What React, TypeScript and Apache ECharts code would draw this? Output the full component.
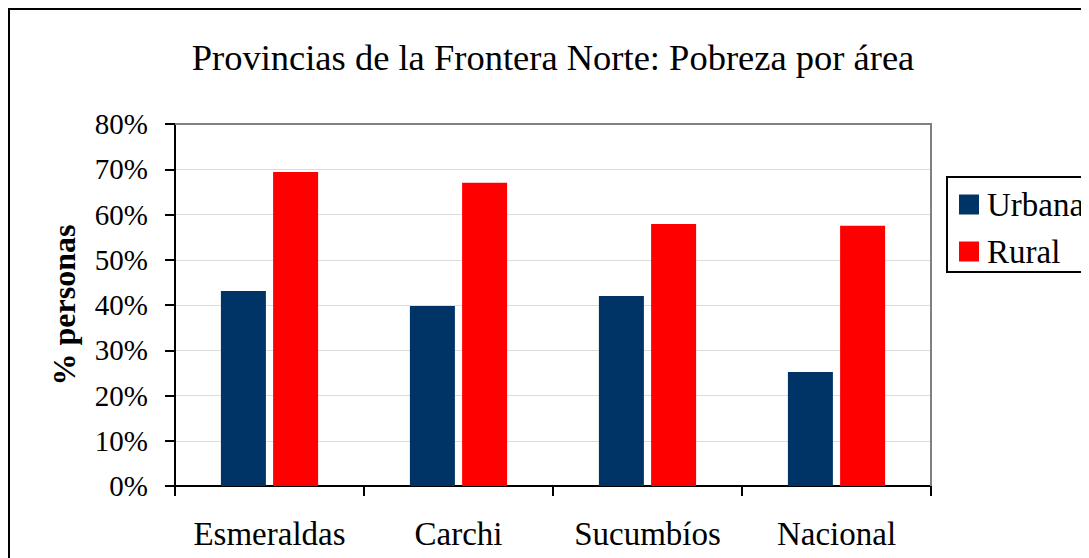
import React, { useEffect, useRef } from "react";
import * as echarts from "echarts";

const categories = ["Esmeraldas", "Carchi", "Sucumbíos", "Nacional"];
const urbana = [43.1, 39.8, 42.0, 25.2];
const rural = [69.4, 67.0, 57.9, 57.5];
const titleText = "Provincias de la Frontera Norte: Pobreza por área";
const yAxisName = "% personas";

const FONT = "'Liberation Serif', 'Times New Roman', serif";

export default function App() {
  const ref = useRef<HTMLDivElement>(null);
  useEffect(() => {
    if (!ref.current) return;
    const chart = echarts.init(ref.current, undefined, { renderer: "svg" });
    chart.setOption({
      animation: false,
      backgroundColor: "#fff",
      title: {
        text: titleText,
        left: 540,
        top: 26,
        textAlign: "center",
        textStyle: { fontFamily: FONT, fontSize: 36.5, fontWeight: "normal", color: "#000" },
      },
      legend: {
        orient: "vertical",
        left: 939,
        top: 169,
        padding: [11, 12, 4, 12],
        itemWidth: 20,
        itemHeight: 20,
        itemGap: 14,
        borderColor: "#000",
        borderWidth: 2,
        icon: "rect",
        textStyle: { fontFamily: FONT, fontSize: 33, color: "#000", padding: [0, 0, 0, 3] },
        data: ["Urbana", "Rural"],
      },
      grid: { left: 167, top: 116, width: 756, height: 362, containLabel: false },
      xAxis: {
        type: "category",
        data: categories,
        axisLine: { show: true, lineStyle: { color: "#000", width: 2 } },
        axisTick: { show: true, interval: 0, length: 10, alignWithLabel: false, lineStyle: { color: "#000", width: 2 } },
        axisLabel: { interval: 0, margin: 31, fontFamily: FONT, fontSize: 33, color: "#000" },
        splitLine: { show: false },
      },
      yAxis: {
        type: "value",
        min: 0,
        max: 80,
        interval: 10,
        name: yAxisName,
        nameLocation: "middle",
        nameGap: 95,
        nameTextStyle: { fontFamily: FONT, fontSize: 32, fontWeight: "bold", color: "#000" },
        axisLine: { show: true, lineStyle: { color: "#000", width: 2 } },
        axisTick: { show: true, length: 10, lineStyle: { color: "#000", width: 2 } },
        axisLabel: {
          margin: 27,
          fontFamily: FONT,
          fontSize: 29,
          color: "#000",
          formatter: (v: number) => `${v}%`,
        },
        splitLine: { show: true, lineStyle: { color: "#dcdcdc", width: 1 } },
      },
      graphic: [
        {
          type: "polyline",
          shape: { points: [[1, 560], [1, 1], [1100, 1]] },
          style: { stroke: "#000", lineWidth: 2, fill: "none" },
          silent: true,
        },
        {
          type: "polyline",
          shape: { points: [[167, 116], [923, 116], [923, 478]] },
          style: { stroke: "#808080", lineWidth: 2, fill: "none" },
          silent: true,
          z: 10,
        },
      ],
      series: [
        {
          name: "Urbana",
          type: "bar",
          data: urbana,
          barWidth: 45,
          barGap: "16%",
          itemStyle: { color: "#003366" },
        },
        {
          name: "Rural",
          type: "bar",
          data: rural,
          barWidth: 45,
          barGap: "16%",
          itemStyle: { color: "#ff0000" },
        },
      ],
    });
    return () => chart.dispose();
  }, []);
  return <div ref={ref} style={{ width: 1081, height: 550 }} />;
}
